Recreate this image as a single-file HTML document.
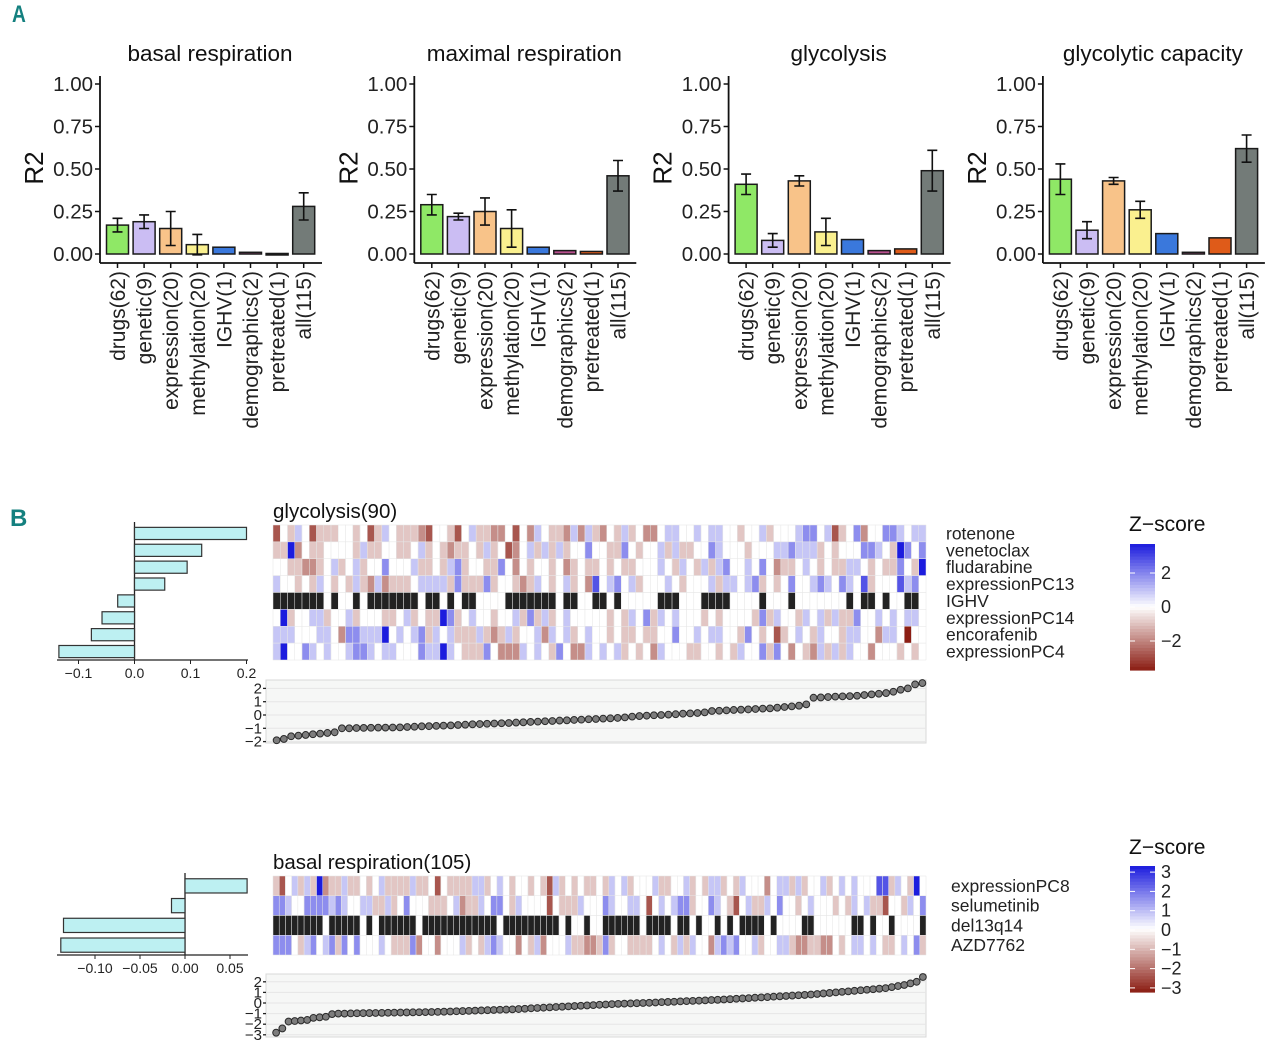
<!DOCTYPE html>
<html><head><meta charset="utf-8"><style>
html,body{margin:0;padding:0;background:#fff;}
svg{display:block;font-family:"Liberation Sans",sans-serif;}
</style></head><body>
<svg id="fig" width="1280" height="1048" viewBox="0 0 1280 1048" xmlns="http://www.w3.org/2000/svg">
<text x="12" y="22" font-size="24" font-weight="bold" fill="#14807f" transform="scale(0.8,1)" style="transform-origin:12px 22px">A</text>
<text x="10" y="526" font-size="24" font-weight="bold" fill="#14807f">B</text>
</svg>
<script>
// ---------- Panel A data ----------
const catsA = ["drugs(62)","genetic(9)","expression(20)","methylation(20)","IGHV(1)","demographics(2)","pretreated(1)","all(115)"];
const titlesA = ["basal respiration","maximal respiration","glycolysis","glycolytic capacity"];
const valsBasal = [0.17,0.19,0.15,0.055,0.04,0.01,0.003,0.28];
const errBasal = [0.04,0.04,0.10,0.06,0,0,0,0.08];
const valsMaximal = [0.29,0.22,0.25,0.15,0.04,0.02,0.015,0.46];
const errMaximal = [0.06,0.02,0.08,0.11,0,0,0,0.09];
const valsGlyco = [0.41,0.08,0.43,0.13,0.085,0.02,0.03,0.49];
const errGlyco = [0.06,0.04,0.03,0.08,0,0,0,0.12];
const valsCap = [0.44,0.14,0.43,0.26,0.12,0.01,0.095,0.62];
const errCap = [0.09,0.05,0.02,0.05,0,0,0,0.08];
const yTicksA = [0,0.25,0.5,0.75,1];
const yTickLabelsA = ["0.00","0.25","0.50","0.75","1.00"];
const colorsA = ["#8fe866","#cbbdf3","#f8c389","#faf08f","#3a78dc","#b84f8e","#df5b19","#737b78"];

// ---------- Panel B data ----------
const glyFeatures = ["rotenone","venetoclax","fludarabine","expressionPC13","IGHV","expressionPC14","encorafenib","expressionPC4"];
const glyCoef = [0.2,0.12,0.094,0.054,-0.03,-0.058,-0.077,-0.135];
const glyCoefTicks = [-0.1,0,0.1,0.2];
const glyCoefTickLabels = ["\u22120.1","0.0","0.1","0.2"];
const glyRows = [
"1435413334434135433321443145332241425433252532435342245544545544344534445664513462446654556645",
"3382433444435334433453432334353412453535344644336434453533446544434445565553434446654386465654",
"4433223453453446444533435634433642434434234334343344454354353564454642334543433554343364385566",
"5443435434353252333455553633363443235434534274564534445434445355456343464456546547344475645454",
"",
"4834455344534443345343386345443445363534544444343546354544434344443635443545353364454545543433",
"5554445542665558454563545333532353445254534544343343344644545544364341345435443554425540443534",
"5844654544566545544465585433364222545436422545453434254443344343544636424325353544244434345453"
];
const glyIGHV = "111111101001011111110110101100001111111011001101000001110001111000010001000000010110100110";
const glyDots = [-1.9,-1.8,-1.6,-1.55,-1.5,-1.45,-1.4,-1.35,-1.3,-1.0,-1.0,-0.98,-0.97,-0.96,-0.95,-0.95,-0.94,-0.93,-0.9,-0.88,-0.85,-0.84,-0.82,-0.8,-0.78,-0.75,-0.73,-0.7,-0.68,-0.66,-0.64,-0.62,-0.6,-0.57,-0.55,-0.52,-0.5,-0.47,-0.45,-0.42,-0.4,-0.37,-0.35,-0.32,-0.3,-0.27,-0.25,-0.22,-0.18,-0.12,-0.08,-0.05,-0.02,0.0,0.03,0.06,0.1,0.12,0.15,0.2,0.3,0.32,0.35,0.38,0.4,0.42,0.45,0.48,0.5,0.55,0.6,0.65,0.7,0.8,1.3,1.32,1.35,1.38,1.4,1.42,1.45,1.5,1.55,1.6,1.65,1.75,1.9,2.0,2.3,2.4];

const basFeatures = ["expressionPC8","selumetinib","del13q14","AZD7762"];
const basCoef = [0.069,-0.015,-0.135,-0.138];
const basCoefTicks = [-0.1,-0.05,0,0.05];
const basCoefTickLabels = ["\u22120.10","\u22120.05","0.00","0.05"];
const basRows = [
"3145353823353343453333533414333355345434434315343433435453444533445343553435444245535344534545444773543845446",
"6654466665654455335346444333452335466435444414333544465445541454566344654314533546443454443435453314435464345",
"",
"6664356456364644454333624424445343565442435244453322363443333454353544256564453445532233224345545433454633624"
];
const basDel = "111111110111110101111110111111111111011111111101001001111110111101101001010111101000011000000110100100001";
const basDots = [-2.8,-2.4,-1.75,-1.7,-1.65,-1.6,-1.4,-1.35,-1.3,-1.05,-1.0,-1.0,-0.98,-0.97,-0.96,-0.95,-0.94,-0.93,-0.92,-0.91,-0.9,-0.89,-0.88,-0.87,-0.86,-0.85,-0.84,-0.82,-0.8,-0.78,-0.76,-0.74,-0.72,-0.7,-0.68,-0.66,-0.64,-0.62,-0.6,-0.57,-0.54,-0.5,-0.47,-0.44,-0.41,-0.38,-0.35,-0.32,-0.29,-0.26,-0.23,-0.2,-0.17,-0.14,-0.11,-0.08,-0.06,-0.04,-0.02,0.0,0.02,0.05,0.08,0.1,0.12,0.15,0.18,0.2,0.22,0.25,0.28,0.3,0.33,0.36,0.4,0.43,0.46,0.5,0.53,0.56,0.6,0.63,0.66,0.7,0.73,0.76,0.8,0.85,0.9,0.95,1.0,1.05,1.1,1.15,1.2,1.25,1.3,1.35,1.4,1.5,1.6,1.7,1.85,2.0,2.45];
const glyDotTicks = [2,1,0,-1,-2];
const basDotTicks = [2,1,0,-1,-2,-3];

// ---------- helpers ----------
const NS = "http://www.w3.org/2000/svg";
const svg = document.getElementById("fig");
function mk(tag, attrs, parent, txt){
  const e = document.createElementNS(NS, tag);
  for (const k in attrs) e.setAttribute(k, attrs[k]);
  if (txt !== undefined) e.textContent = txt;
  (parent || svg).appendChild(e);
  return e;
}
function minus(s){ return String(s).replace("-", "\u2212"); }

// ---------- Panel A ----------
const allVals = [valsBasal, valsMaximal, valsGlyco, valsCap];
const allErr = [errBasal, errMaximal, errGlyco, errCap];
for (let p = 0; p < 4; p++) {
  const off = p * 314.3;
  const g = mk("g", {});
  
  
  const ax = 100 + off, y0 = 254, y1 = 84;
  const yS = v => y0 - (y0 - y1) * v;
  const xS = i => 117.5 + off + i * 26.6;
  const t = mk("text", {x: 210 + off, y: 61, "font-size": 22.5, "text-anchor": "middle", fill: "#111"}, g, titlesA[p]);
  
  
  const yl = mk("text", {x: 0, y: 0, "font-size": 26, "text-anchor": "middle", fill: "#111", transform: `translate(${43 + off},168) rotate(-90)`}, g, "R2");
  
  
  mk("line", {x1: ax, y1: 76, x2: ax, y2: 263, stroke: "#111", "stroke-width": 1.8}, g);
  mk("line", {x1: ax, y1: 263, x2: 322 + off, y2: 263, stroke: "#111", "stroke-width": 1.8}, g);
  yTicksA.forEach((v, k) => {
    mk("line", {x1: ax - 5, y1: yS(v), x2: ax, y2: yS(v), stroke: "#111", "stroke-width": 1.5}, g);
    const tl = mk("text", {x: ax - 7, y: yS(v) + 7, "font-size": 20.5, "text-anchor": "end", fill: "#222"}, g, yTickLabelsA[k]);
    
    
  });
  catsA.forEach((c, i) => {
    const v = allVals[p][i], e = allErr[p][i], x = xS(i);
    const b = mk("rect", {x: x - 11, y: yS(v), width: 22, height: Math.max(y0 - yS(v), 1.5), fill: colorsA[i], stroke: "#1a1a1a", "stroke-width": 1.5}, g);
    
    
    if (e > 0) {
      const eb = mk("path", {d: `M${x - 5},${yS(v + e)}H${x + 5}M${x},${yS(v + e)}V${yS(Math.max(v - e, -0.01))}M${x - 5},${yS(Math.max(v - e, -0.01))}H${x + 5}`, stroke: "#111", "stroke-width": 1.6, fill: "none"}, g);
      
      
    }
    mk("line", {x1: x, y1: 263, x2: x, y2: 268, stroke: "#111", "stroke-width": 1.5}, g);
    const xl = mk("text", {x: 0, y: 0, "font-size": 21, "text-anchor": "end", fill: "#222", transform: `translate(${x + 7.5},271) rotate(-90)`}, g, c);
    
    
  });
}

// ---------- Panel B ----------
function zColor(d){
  const z = d - 4;
  let r, gg, b;
  if (z >= 0) { const t = z / 4; r = 255 - t * (255 - 28); gg = 255 - t * (255 - 28); b = 255 - t * (255 - 222); }
  else { const t = -z / 4; r = 255 - t * (255 - 140); gg = 255 - t * (255 - 30); b = 255 - t * (255 - 20); }
  return `rgb(${r|0},${gg|0},${b|0})`;
}
function block(o){
  const g = mk("g", {});
  
  
  const N = o.dots.length;
  const hx0 = 273, hx1 = 926;
  const cw = (hx1 - hx0) / N;
  const nr = o.features.length;
  const rh = (o.hy1 - o.hy0) / nr;
  const tt = mk("text", {x: 273, y: o.titleY, "font-size": 20.5, fill: "#111"}, g, o.title);
  
  
  for (let r = 0; r < nr; r++) {
    const isBin = r === o.binRow;
    const s = isBin ? o.bin : o.rows[r].padEnd(N, "4").slice(0, N);
    for (let i = 0; i < N; i++) {
      const fill = isBin ? (s[i] === "1" ? "#222" : "#fff") : zColor(+s[i]);
      const c = mk("rect", {x: hx0 + i * cw, y: o.hy0 + r * rh, width: cw, height: rh, fill: fill, stroke: "#e6e6e6", "stroke-width": 0.5}, g);
      
      
    }
    const fl = mk("text", {x: o.labX, y: o.hy0 + r * rh + rh / 2 + 6, "font-size": 17.5, fill: "#222"}, g, o.features[r]);
    
    
  }
  // coefficient bars
  const cx = v => o.cx0 + (v - o.ticks[0]) * o.cpu;
  mk("line", {x1: cx(0), y1: o.hy0 - 3, x2: cx(0), y2: o.hy1, stroke: "#222", "stroke-width": 1.3}, g);
  mk("line", {x1: o.axL, y1: o.hy1, x2: 248, y2: o.hy1, stroke: "#222", "stroke-width": 1.3}, g);
  o.coef.forEach((v, r) => {
    const yc = o.hy0 + r * rh + rh / 2;
    const bh = rh * 0.72;
    const b = mk("rect", {x: Math.min(cx(0), cx(v)), y: yc - bh / 2, width: Math.abs(cx(v) - cx(0)), height: bh, fill: "#bdf0f2", stroke: "#333", "stroke-width": 1.2}, g);
    
    
  });
  o.ticks.forEach((v, k) => {
    mk("line", {x1: cx(v), y1: o.hy1, x2: cx(v), y2: o.hy1 + 4, stroke: "#222"}, g);
    const tl = mk("text", {x: cx(v), y: o.hy1 + 18, "font-size": 14, "text-anchor": "middle", fill: "#222"}, g, o.tickLabels[k]);
    
    
  });
  // dot plot
  const dy = v => o.d0 - v * o.dpu;
  const bg = mk("rect", {x: 266, y: o.dTop, width: 660, height: o.dBot - o.dTop, fill: "#f6f7f6", stroke: "#d8d8d8"}, g);
  
  
  o.dTicks.forEach(v => {
    mk("line", {x1: 266, y1: dy(v), x2: 926, y2: dy(v), stroke: "#e6e6e6"}, g);
    mk("line", {x1: 263, y1: dy(v), x2: 266, y2: dy(v), stroke: "#222", "stroke-width": 1.3}, g);
    const tl = mk("text", {x: 262, y: dy(v) + 5, "font-size": 15, "text-anchor": "end", fill: "#222"}, g, minus(v));
    
    
  });
  o.dots.forEach((v, i) => {
    const p = mk("circle", {cx: hx0 + (i + 0.5) * cw, cy: dy(v), r: 3.4, fill: "#7d7d7d", stroke: "#2a2a2a", "stroke-width": 1}, g);
    
    
  });
  // legend
  const lg = mk("g", {});
  
  
  mk("text", {x: 1129, y: o.legTitleY, "font-size": 21, fill: "#111"}, lg, "Z\u2212score");
  const steps = 40;
  for (let k = 0; k < steps; k++) {
    const d = 8 - 8 * (k + 0.5) / steps;
    mk("rect", {x: 1130, y: o.legY0 + k * (o.legY1 - o.legY0) / steps, width: 25, height: (o.legY1 - o.legY0) / steps + 0.6, fill: zColor(d)}, lg);
  }
  o.legTicks.forEach(v => {
    const y = o.legMid - v * o.legPU;
    mk("line", {x1: 1130, y1: y, x2: 1135, y2: y, stroke: "#fff"}, lg);
    mk("line", {x1: 1150, y1: y, x2: 1155, y2: y, stroke: "#fff"}, lg);
    mk("text", {x: 1161, y: y + 6, "font-size": 18, fill: "#222"}, lg, minus(v));
  });
}
block({name: "glycolysis-block", title: "glycolysis(90)", titleY: 518, features: glyFeatures, rows: glyRows, binRow: 4, bin: glyIGHV,
  hy0: 525, hy1: 660, labX: 946, coef: glyCoef, ticks: glyCoefTicks, tickLabels: glyCoefTickLabels, cx0: 78.5, cpu: 560, axL: 57,
  dots: glyDots, dTicks: glyDotTicks, d0: 715, dpu: 13.3, dTop: 680, dBot: 743,
  legTitleY: 531, legY0: 544, legY1: 670, legTicks: [2, 0, -2], legMid: 607, legPU: 17});
block({name: "basal-respiration-block", title: "basal respiration(105)", titleY: 869, features: basFeatures, rows: basRows, binRow: 2, bin: basDel,
  hy0: 876, hy1: 955, labX: 951, coef: basCoef, ticks: basCoefTicks, tickLabels: basCoefTickLabels, cx0: 95, cpu: 900, axL: 57,
  dots: basDots, dTicks: basDotTicks, d0: 1003, dpu: 10.6, dTop: 974, dBot: 1037,
  legTitleY: 854, legY0: 866, legY1: 992, legTicks: [3, 2, 1, 0, -1, -2, -3], legMid: 930, legPU: 19.3});
</script>
</body></html>
